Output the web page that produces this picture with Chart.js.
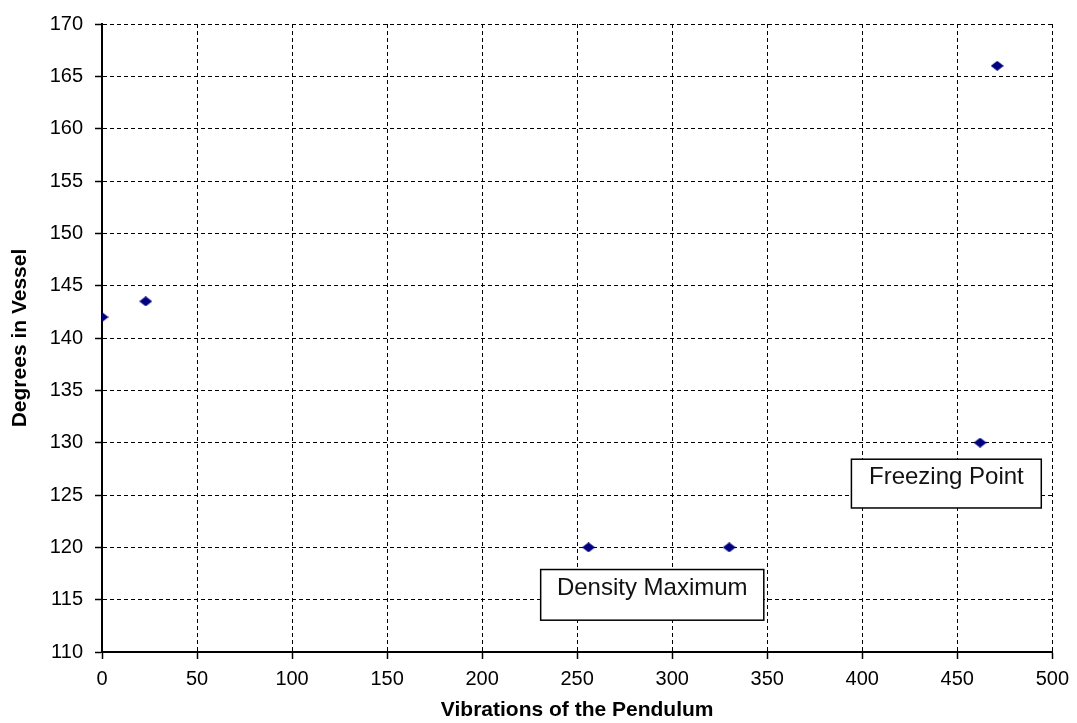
<!DOCTYPE html>
<html>
<head>
<meta charset="utf-8">
<script src="https://cdn.jsdelivr.net/npm/chart.js@4/dist/chart.umd.min.js"></script>
<style>
  html, body { margin: 0; padding: 0; background: #fff; }
  #wrap { width: 1077px; height: 723px; }
</style>
</head>
<body>
<div id="wrap"><canvas id="c" width="1077" height="723"></canvas></div>
<script>
// Pendulum vibrations vs. degrees in the vessel
const vibrations = [0, 23, 256, 330, 462, 471];
const degrees = [142, 143.5, 120, 120, 130, 166];

// Axis ranges and tick step
const xRange = [0, 500];
const xStep = 50;
const yRange = [110, 170];
const yStep = 5;

// Text callouts
const calloutTexts = ['Density Maximum', 'Freezing Point'];

// Callout box placement, in axis units: [xLeft, xRight, yTop, yBottom]
const calloutBoxes = [
  [230.8, 348.2, 117.88, 113.04],
  [394.3, 494.2, 128.42, 123.76]
];

// Flattened navy diamond marker
function diamondMarker(w, h, color) {
  const cv = document.createElement('canvas');
  cv.width = w; cv.height = h;
  const g = cv.getContext('2d');
  g.fillStyle = color;
  g.beginPath();
  g.moveTo(w / 2, 0);
  g.lineTo(w, h / 2);
  g.lineTo(w / 2, h);
  g.lineTo(0, h / 2);
  g.closePath();
  g.fill();
  return cv;
}

const calloutPlugin = {
  id: 'callouts',
  afterDatasetsDraw(chart) {
    const { ctx, scales: { x, y } } = chart;
    ctx.save();
    calloutTexts.forEach((txt, i) => {
      const [x0, x1, y0, y1] = calloutBoxes[i];
      const left = x.getPixelForValue(x0);
      const right = x.getPixelForValue(x1);
      const top = y.getPixelForValue(y0);
      const bottom = y.getPixelForValue(y1);
      ctx.fillStyle = '#ffffff';
      ctx.fillRect(left, top, right - left, bottom - top);
      ctx.strokeStyle = '#000000';
      ctx.lineWidth = 1.5;
      ctx.strokeRect(left, top, right - left, bottom - top);
      ctx.fillStyle = '#111111';
      ctx.font = '24px "Liberation Sans", Arial, sans-serif';
      ctx.textAlign = 'center';
      ctx.textBaseline = 'alphabetic';
      ctx.fillText(txt, (left + right) / 2, top + 25);
    });
    ctx.restore();
  }
};

const tickFont = { family: '"Liberation Sans", Arial, sans-serif', size: 20 };
const titleFont = { family: '"Liberation Sans", Arial, sans-serif', size: 21, weight: 'bold' };

new Chart(document.getElementById('c'), {
  type: 'scatter',
  data: {
    datasets: [{
      data: vibrations.map((v, i) => ({ x: v, y: degrees[i] })),
      pointStyle: diamondMarker(13, 10, '#000080'),
      pointRadius: 6,
      pointHoverRadius: 6,
      backgroundColor: '#000080',
      borderColor: '#000080'
    }]
  },
  options: {
    responsive: false,
    animation: false,
    events: [],
    layout: { padding: { left: 0, top: 20, right: 24, bottom: 0 } },
    plugins: { legend: { display: false }, tooltip: { enabled: false } },
    scales: {
      x: {
        type: 'linear',
        min: xRange[0], max: xRange[1],
        afterFit(scale) { scale.height = 71; },
        ticks: { stepSize: xStep, color: '#000', font: tickFont, padding: 8, maxRotation: 0 },
        grid: { color: '#000', lineWidth: 1, tickLength: 7, tickColor: '#000', tickWidth: 1.5 },
        border: { display: true, color: '#000', width: 2, dash: [4, 3] },
        title: { display: true, text: 'Vibrations of the Pendulum', color: '#000', font: titleFont, padding: { top: 9, bottom: 0 } }
      },
      y: {
        type: 'linear',
        min: yRange[0], max: yRange[1],
        afterFit(scale) { scale.width = 102; },
        ticks: { stepSize: yStep, color: '#000', font: tickFont, padding: 12 },
        grid: { color: '#000', lineWidth: 1, tickLength: 7, tickColor: '#000', tickWidth: 1.5 },
        border: { display: true, color: '#000', width: 2, dash: [4, 3] },
        title: { display: true, text: 'Degrees in Vessel', color: '#000', font: titleFont, padding: { top: 8, bottom: 0 } }
      }
    }
  },
  plugins: [calloutPlugin]
});
</script>
</body>
</html>
